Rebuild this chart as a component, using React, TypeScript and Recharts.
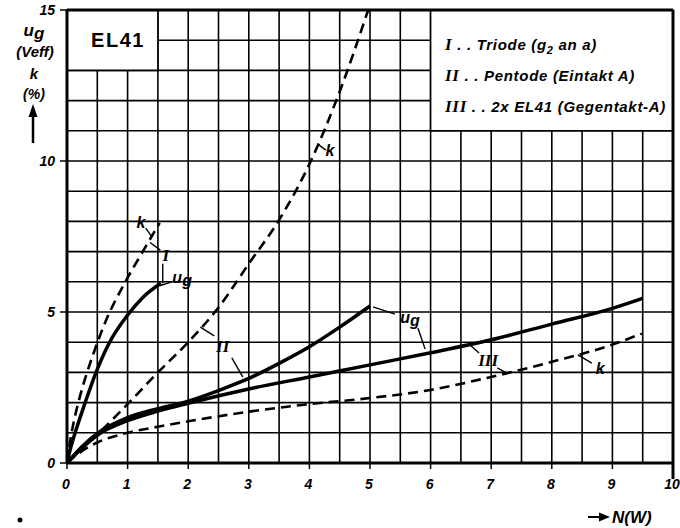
import React from 'react';
import {
  ComposedChart,
  Line,
  XAxis,
  YAxis,
  CartesianGrid,
  ReferenceArea,
  ReferenceLine,
  ReferenceDot
} from 'recharts';

// grid: vertical every 0.5 W, horizontal every 1 unit
const xTicks = [0, 0.5, 1, 1.5, 2, 2.5, 3, 3.5, 4, 4.5, 5, 5.5, 6, 6.5, 7, 7.5, 8, 8.5, 9, 9.5, 10];
const yTicks = [0, 1, 2, 3, 4, 5, 6, 7, 8, 9, 10, 11, 12, 13, 14, 15];

// I .. Triode
const triodeUgN = [0, 0.06, 0.15, 0.3, 0.46, 0.69, 1.0, 1.26, 1.55];
const triodeUg = [0, 0.5, 1.1, 2.0, 2.9, 3.95, 4.9, 5.5, 5.95];
const triodeKN = [0, 0.05, 0.1, 0.2, 0.3, 0.45, 0.65, 0.95, 1.25, 1.53];
const triodeK = [0, 0.7, 1.25, 2.1, 2.8, 3.7, 4.75, 5.95, 7.0, 7.95];

// II .. Pentode
const pentodeUgN = [0, 0.25, 0.5, 1, 1.5, 2, 2.5, 3, 3.5, 4, 4.5, 5];
const pentodeUg = [0, 0.55, 0.98, 1.5, 1.8, 2.05, 2.4, 2.8, 3.3, 3.85, 4.5, 5.2];
const pentodeKN = [0, 0.25, 0.5, 1, 1.5, 2, 2.5, 3, 3.5, 4, 4.5, 4.97];
const pentodeK = [0, 0.5, 0.95, 1.95, 3.0, 4.0, 5.15, 6.6, 8.05, 9.9, 12.3, 15];

// III .. 2 x EL41
const pushPullN = [0, 0.25, 0.5, 1, 1.5, 2, 3, 4, 5, 6, 7, 8, 9, 9.5];
const pushPullUg = [0, 0.5, 0.92, 1.4, 1.72, 1.98, 2.45, 2.85, 3.25, 3.65, 4.08, 4.6, 5.12, 5.45];
const pushPullK = [0, 0.4, 0.68, 1.0, 1.2, 1.38, 1.7, 1.95, 2.15, 2.42, 2.85, 3.35, 3.92, 4.3];

const pts = (xs: number[], ys: number[]) => xs.map((x, i) => ({ x, y: ys[i] }));

// curve labels (data coords)
const notes = [
  { x: 1.22, y: 7.98, text: 'k', kind: 'sans' },
  { x: 1.63, y: 6.89, text: 'I', kind: 'roman' },
  { x: 1.9, y: 6.06, text: 'ug', kind: 'sub' },
  { x: 4.34, y: 10.36, text: 'k', kind: 'sans' },
  { x: 2.57, y: 3.87, text: 'II', kind: 'roman' },
  { x: 5.66, y: 4.74, text: 'ug', kind: 'sub' },
  { x: 6.95, y: 3.41, text: 'III', kind: 'roman' },
  { x: 8.8, y: 3.15, text: 'k', kind: 'sans' }
];

// leader lines
const leaders = [
  [1.3, 7.78, 1.39, 7.52],
  [1.37, 7.3, 1.54, 7.05],
  [1.58, 6.6, 1.58, 5.95],
  [1.53, 5.87, 1.73, 6.0],
  [4.14, 10.56, 4.27, 10.36],
  [2.2, 4.5, 2.43, 4.21],
  [2.72, 3.48, 2.9, 2.85],
  [5.05, 5.17, 5.41, 4.93],
  [5.79, 4.47, 5.91, 3.77],
  [6.65, 3.91, 6.8, 3.64],
  [7.1, 3.15, 7.28, 2.95],
  [8.43, 3.58, 8.66, 3.31]
];

const W = 680;
const H = 528;
const PLOT_LEFT = 67;
const PLOT_BOTTOM = 463;

const SANS = '"Liberation Sans", Arial, sans-serif';
const SERIF = '"Liberation Serif", "DejaVu Serif", serif';
const txt = { fontFamily: SANS, fontWeight: 700, fontStyle: 'italic' as const, fill: '#000' };

const XTick = (props: any) => {
  const { x, payload } = props;
  const v = payload.value;
  if (!Number.isInteger(v)) return <g />;
  return (
    <g>
      <line x1={x} x2={x} y1={PLOT_BOTTOM} y2={PLOT_BOTTOM + (v === 10 ? 16 : 6)} stroke="#000" strokeWidth={v === 10 ? 3 : 1.5} />
      <text x={x - 1} y={PLOT_BOTTOM + 26} textAnchor="middle" fontSize={14} {...txt}>{v}</text>
    </g>
  );
};

const YTick = (props: any) => {
  const { y, payload } = props;
  const v = payload.value;
  if (v % 5 !== 0) return <g />;
  return (
    <g>
      <line x1={PLOT_LEFT - 7} x2={PLOT_LEFT} y1={y} y2={y} stroke="#000" strokeWidth={1.5} />
      <text x={PLOT_LEFT - 12} y={y + 5} textAnchor="end" fontSize={14} {...txt}>{v}</text>
    </g>
  );
};

const NoteShape = (note: { text: string; kind: string }) => (p: any) => {
  const { cx, cy } = p;
  if (note.kind === 'roman') {
    return (
      <text x={cx} y={cy + 6} textAnchor="middle" fontSize={17} fontFamily={SERIF} fontWeight={700} fontStyle="italic" fill="#000">
        {note.text}
      </text>
    );
  }
  if (note.kind === 'sub') {
    return (
      <text x={cx} y={cy + 3} textAnchor="middle" fontSize={16} {...txt}>
        u<tspan dy={3}>g</tspan>
      </text>
    );
  }
  return (
    <text x={cx} y={cy + 6} textAnchor="middle" fontSize={16} {...txt}>{note.text}</text>
  );
};

const solid = { stroke: '#000', strokeWidth: 3.5, dot: false, type: 'monotone' as const, isAnimationActive: false };
const dashed = { ...solid, strokeWidth: 2.6, strokeDasharray: '10 6' };

export default function App() {
  return (
    <div style={{ position: 'absolute', left: 0, top: 0, width: W, height: H, background: '#fff' }}>
      <ComposedChart width={W} height={H} margin={{ top: 10, right: 7, bottom: 35, left: 0 }}>
        <CartesianGrid stroke="#000" strokeWidth={1.6} />
        <XAxis
          dataKey="x"
          type="number"
          domain={[0, 10]}
          ticks={xTicks}
          interval={0}
          height={30}
          axisLine={{ stroke: '#000', strokeWidth: 3 }}
          tickLine={false}
          tick={<XTick />}
          allowDataOverflow
        />
        <YAxis
          type="number"
          domain={[0, 15]}
          ticks={yTicks}
          interval={0}
          width={67}
          axisLine={{ stroke: '#000', strokeWidth: 3 }}
          tickLine={false}
          tick={<YTick />}
          allowDataOverflow
        />
        <ReferenceLine x={10} stroke="#000" strokeWidth={3} />
        <ReferenceLine y={15} stroke="#000" strokeWidth={3} />
        <ReferenceArea x1={0} x2={1.5} y1={13} y2={15} fill="#fff" fillOpacity={1} stroke="#000" strokeWidth={1.6} />
        <ReferenceArea x1={6} x2={10} y1={11} y2={15} fill="#fff" fillOpacity={1} stroke="#000" strokeWidth={1.6} />

        <Line data={pts(triodeUgN, triodeUg)} dataKey="y" name="I ug" {...solid} />
        <Line data={pts(triodeKN, triodeK)} dataKey="y" name="I k" {...dashed} />
        <Line data={pts(pentodeUgN, pentodeUg)} dataKey="y" name="II ug" {...solid} />
        <Line data={pts(pentodeKN, pentodeK)} dataKey="y" name="II k" {...dashed} />
        <Line data={pts(pushPullN, pushPullUg)} dataKey="y" name="III ug" {...solid} />
        <Line data={pts(pushPullN, pushPullK)} dataKey="y" name="III k" {...dashed} />

        {leaders.map((s, i) => (
          <ReferenceLine
            key={`ld-${i}`}
            segment={[{ x: s[0], y: s[1] }, { x: s[2], y: s[3] }]}
            stroke="#000"
            strokeWidth={1.4}
          />
        ))}
        {notes.map((n, i) => (
          <ReferenceDot key={`nt-${i}`} x={n.x} y={n.y} r={0} shape={NoteShape(n)} />
        ))}
      </ComposedChart>

      <svg width={W} height={H} style={{ position: 'absolute', left: 0, top: 0, pointerEvents: 'none' }}>
        {/* type box */}
        <text x={118} y={47} textAnchor="middle" fontSize={20} fontFamily={SANS} fontWeight={700} letterSpacing={1.5} fill="#000">EL41</text>

        {/* legend */}
        <g fontSize={15} fontFamily={SANS} fontWeight={700} fontStyle="italic" letterSpacing={0.7} fill="#000">
          <text x={445} y={50}>
            <tspan fontFamily={SERIF} fontSize={17}>I</tspan>
            <tspan> . . Triode (g</tspan>
            <tspan dy={4} fontSize={11}>2</tspan>
            <tspan dy={-4}> an a)</tspan>
          </text>
          <text x={445} y={81}>
            <tspan fontFamily={SERIF} fontSize={17}>II</tspan>
            <tspan> . . Pentode (Eintakt A)</tspan>
          </text>
          <text x={445} y={112}>
            <tspan fontFamily={SERIF} fontSize={17}>III</tspan>
            <tspan> . . 2x EL41 (Gegentakt-A)</tspan>
          </text>
        </g>

        {/* y axis title */}
        <g fontFamily={SANS} fontWeight={700} fontStyle="italic" fill="#000" textAnchor="middle">
          <text x={34} y={36} fontSize={17}>u<tspan dy={3}>g</tspan></text>
          <text x={35} y={57} fontSize={15}>(Veff)</text>
          <text x={34} y={79} fontSize={15}>k</text>
          <text x={34} y={99} fontSize={14}>(%)</text>
        </g>
        <line x1={33} y1={143} x2={33} y2={114} stroke="#000" strokeWidth={2.5} />
        <polygon points="33,104 28.5,117 37.5,117" fill="#000" />

        {/* x axis title */}
        <line x1={588} y1={517} x2={600} y2={517} stroke="#000" strokeWidth={2} />
        <polygon points="610,517 599,512.5 599,521.5" fill="#000" />
        <text x={612} y={523} fontSize={17} fontFamily={SANS} fontWeight={700} fontStyle="italic" fill="#000">N(W)</text>

        <circle cx={20} cy={520} r={2.5} fill="#000" />
      </svg>
    </div>
  );
}
